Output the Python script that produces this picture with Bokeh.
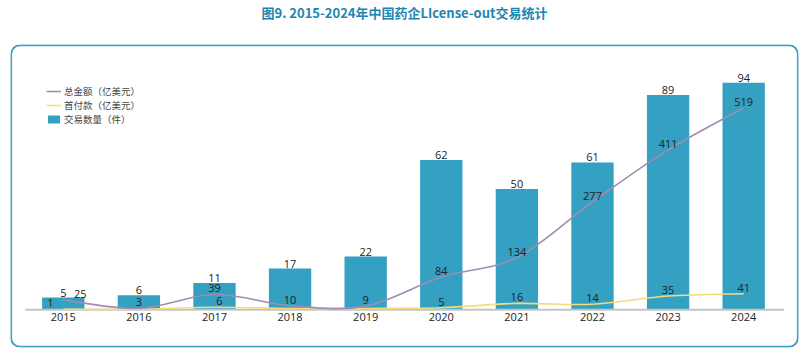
from bokeh.plotting import figure
from bokeh.models import (ColumnDataSource, Range1d, BoxAnnotation, Legend, LegendItem, Title)
from bokeh.core.properties import value
from bokeh.embed import file_html
from bokeh.resources import INLINE

years = ["2015", "2016", "2017", "2018", "2019", "2020", "2021", "2022", "2023", "2024"]
deals = [5, 6, 11, 17, 22, 62, 50, 61, 89, 94]
total_amount = [25, 3, 39, 10, 9, 84, 134, 277, 411, 519]
upfront = [1, 1, 6, 3, 3, 5, 16, 14, 35, 41]
upfront_labels = ["1", "", "6", "", "", "5", "16", "14", "35", "41"]

title = "图9. 2015-2024年中国药企LIcense-out交易统计"
legend_names = ["总金额（亿美元）", "首付款（亿美元）", "交易数量（件）"]

BAR_C = "#34a0c2"
TOT_C = "#a08cb0"
UP_C = "#f3dc7c"
NUM_FONT = "Open Sans"
CJK_FONT = "Noto Sans CJK SC"

xs = list(range(len(years)))
n = len(years)

# frame == rounded box; ranges set so that categories/baseline fall where the reference has them
X0, X1 = -0.698, n - 0.275
BAR_LO, BAR_HI = -15.7, 109.9
AMT_LO, AMT_HI = -97.4, 682.1

p = figure(width=804, height=352, output_backend="svg", toolbar_location=None,
           x_range=Range1d(X0, X1), y_range=Range1d(BAR_LO, BAR_HI),
           min_border_left=10, min_border_right=6, min_border_top=43,
           min_border_bottom=5, title=title)
p.extra_y_ranges = {"amt": Range1d(AMT_LO, AMT_HI)}
p.outline_line_color = None
p.grid.visible = False
p.axis.visible = False
p.background_fill_color = None
p.border_fill_color = "white"

p.title.text_font = CJK_FONT
p.title.text_font_size = "13px"
p.title.text_font_style = "bold"
p.title.text_color = "#1d86b0"
p.title.align = "center"
p.title.standoff = 0
# empty spacer title between the real title and the box, lifting the title up
p.add_layout(Title(text=" ", text_font_size="18.5px", standoff=0), "above")

# rounded frame box
box = BoxAnnotation(left=X0 + 0.008, right=X1 - 0.008, top=BAR_HI - 0.3, bottom=BAR_LO + 0.3,
                    fill_color=None, fill_alpha=0, line_color="#42a0c8", line_alpha=1,
                    line_width=2, border_radius=9, level="underlay")
p.add_layout(box)

# bars
bsrc = ColumnDataSource(dict(x=xs, top=deals, lab=[str(v) for v in deals]))
bars = p.vbar(x="x", top="top", bottom=0, width=0.56, source=bsrc, fill_color=BAR_C, line_color=None)
p.text(x="x", y="top", text="lab", source=bsrc, text_align="center", text_baseline="bottom",
       y_offset=-1, text_font=value(NUM_FONT), text_font_size="11px", text_color="#222222")

# axis baseline and year labels
p.segment(x0=[-0.5], x1=[n - 0.47], y0=[0], y1=[0], line_color="#c4c4c4", line_width=2)
ysrc = ColumnDataSource(dict(x=xs, y=[0] * n, lab=years))
p.text(x="x", y="y", text="lab", source=ysrc, text_align="center", text_baseline="top",
       y_offset=3, text_font=value(NUM_FONT), text_font_size="11px", text_color="#222222")


def smooth(ys):
    m = len(ys)
    x0, y0, x1, y1, cx0, cy0, cx1, cy1 = [], [], [], [], [], [], [], []
    for i in range(m - 1):
        xm, ym = (xs[i - 1], ys[i - 1]) if i > 0 else (xs[i], ys[i])
        xp, yp = (xs[i + 2], ys[i + 2]) if i + 2 < m else (xs[i + 1], ys[i + 1])
        x0.append(xs[i]); y0.append(ys[i]); x1.append(xs[i + 1]); y1.append(ys[i + 1])
        cx0.append(xs[i] + (xs[i + 1] - xm) / 6); cy0.append(ys[i] + (ys[i + 1] - ym) / 6)
        cx1.append(xs[i + 1] - (xp - xs[i]) / 6); cy1.append(ys[i + 1] - (yp - ys[i]) / 6)
    return dict(x0=x0, y0=y0, x1=x1, y1=y1, cx0=cx0, cy0=cy0, cx1=cx1, cy1=cy1)


p.bezier(source=ColumnDataSource(smooth(upfront)), x0="x0", y0="y0", x1="x1", y1="y1",
         cx0="cx0", cy0="cy0", cx1="cx1", cy1="cy1", line_color=UP_C, line_width=1.6,
         y_range_name="amt")
p.bezier(source=ColumnDataSource(smooth(total_amount)), x0="x0", y0="y0", x1="x1", y1="y1",
         cx0="cx0", cy0="cy0", cx1="cx1", cy1="cy1", line_color=TOT_C, line_width=1.6,
         y_range_name="amt")

# legend proxies (single point, draws nothing on the plot)
l_tot = p.line(x=[xs[0]], y=[total_amount[0]], line_color=TOT_C, line_width=1.6, y_range_name="amt")
l_up = p.line(x=[xs[0]], y=[upfront[0]], line_color=UP_C, line_width=1.6, y_range_name="amt")

# value labels
tot_dx = [17, 0, 0, 0, 0, 0, 0, 0, 0, 0]
tsrc = ColumnDataSource(dict(x=xs, y=total_amount, lab=[str(v) for v in total_amount], dx=tot_dx))
p.text(x="x", y="y", text="lab", source=tsrc, x_offset="dx", y_offset=-2, y_range_name="amt",
       text_align="center", text_baseline="bottom", text_font=value(NUM_FONT),
       text_font_size="11px", text_color="#222222")
up_dx = [-13, 0, 5, 0, 0, 0, 0, 0, 0, 0]
usrc = ColumnDataSource(dict(x=xs, y=upfront, lab=upfront_labels, dx=up_dx))
p.text(x="x", y="y", text="lab", source=usrc, x_offset="dx", y_offset=-2, y_range_name="amt",
       text_align="center", text_baseline="bottom", text_font=value(NUM_FONT),
       text_font_size="11px", text_color="#222222")

legend = Legend(items=[LegendItem(label=legend_names[0], renderers=[l_tot]),
                       LegendItem(label=legend_names[1], renderers=[l_up]),
                       LegendItem(label=legend_names[2], renderers=[bars])],
                location=(36, 221), padding=0, margin=0, spacing=0,
                glyph_width=15, glyph_height=10, label_height=10, label_standoff=3,
                label_text_font=CJK_FONT, label_text_font_size="9.5px",
                label_text_color="#444444", background_fill_alpha=0,
                border_line_color=None)
p.add_layout(legend)

open("out.html", "w").write(file_html(p, INLINE))
